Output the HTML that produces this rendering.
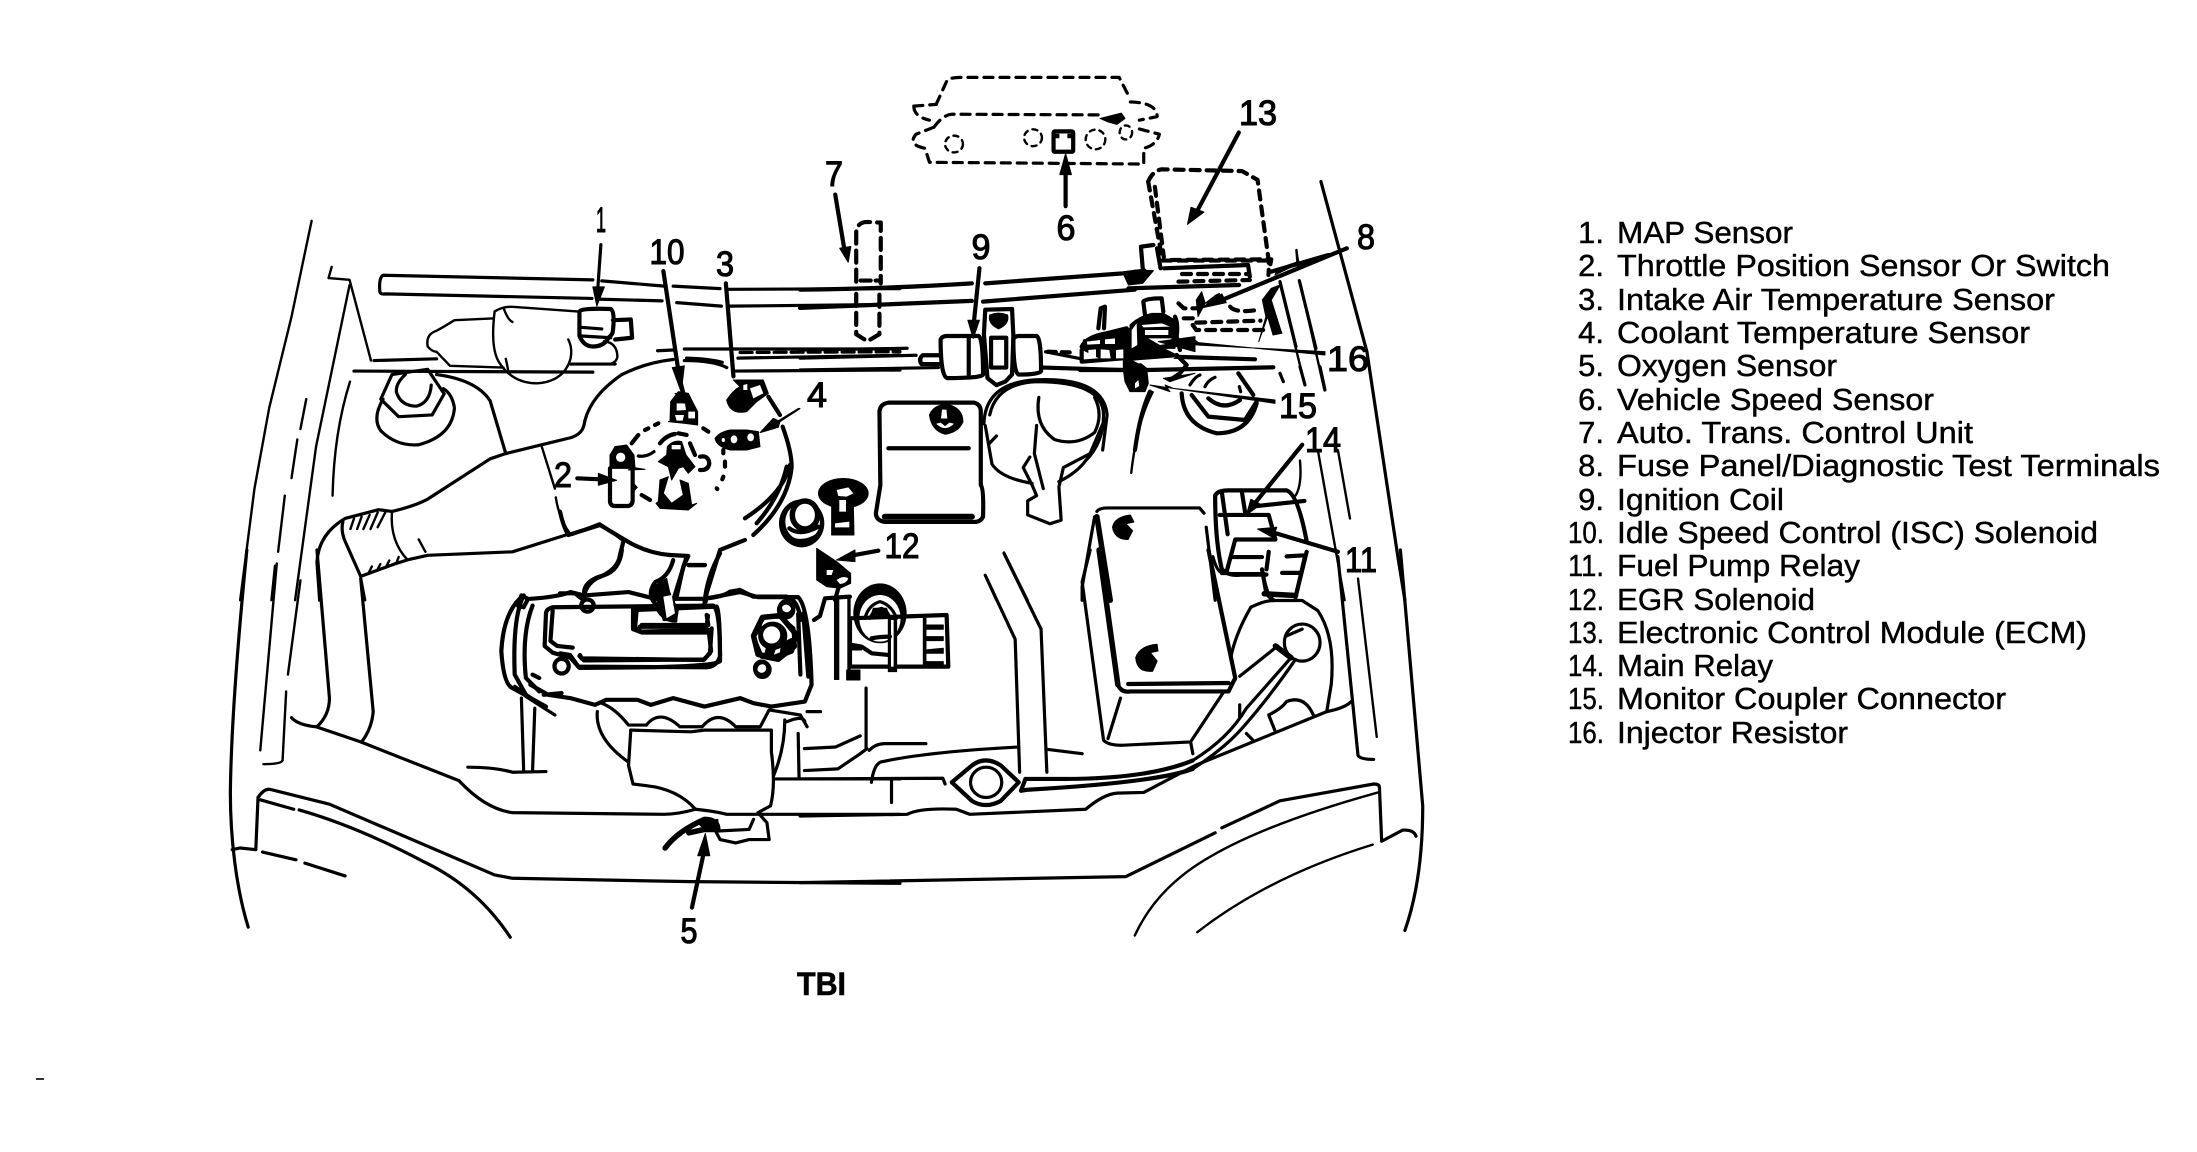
<!DOCTYPE html>
<html><head><meta charset="utf-8"><style>
html,body{margin:0;padding:0;background:#fff;width:2197px;height:1152px;overflow:hidden}
svg{display:block}
path,line,ellipse,rect,polyline{vector-effect:non-scaling-stroke}
.d{fill:none;stroke:#000;stroke-linecap:round;stroke-linejoin:round}
.t{stroke-width:2.4}.m{stroke-width:3.2}.k{stroke-width:4.2}.x{stroke-width:5.5}
.f{fill:#000;stroke:#000;stroke-width:1;stroke-linejoin:round}
.w{fill:#fff;stroke:none}
.ds{stroke-dasharray:9 7}
.dt{stroke-dasharray:5 9}
text{font-family:"Liberation Sans",sans-serif;fill:#000}
.n{font-size:35px;text-anchor:middle;stroke:#000;stroke-width:1.1}
.l{font-size:31px;stroke:#000;stroke-width:.45}
.r{font-size:31px;text-anchor:end;stroke:#000;stroke-width:.45}
</style></head><body>
<svg width="2197" height="1152" viewBox="0 0 2197 1152" xmlns="http://www.w3.org/2000/svg">
<rect width="2197" height="1152" fill="#fff"/>

<!-- crop 1 : upper left -->
<g transform="translate(200,50) scale(.4464,.3509)">
<g class="d t">
<path d="M250,487 L205,760 L155,1020 L122,1250 L90,1568"/>
<path d="M238,995 L225,1080 M218,1110 L205,1220 M190,1270 L175,1430 M168,1470 L160,1568"/>
<path d="M295,618 L288,650 L335,655 L383,885"/>
<path d="M335,670 L260,1130 L213,1568"/>
<path d="M336,945 Q300,1090 297,1270"/>
</g>
<g class="d m">
<path d="M880,655 L410,642 Q400,650 403,690 Q405,697 415,695 L878,708"/>
<path d="M900,658 L1040,673 M1060,673 L1165,680 M1185,682 L1568,680"/>
<path d="M890,710 L1035,715 M1068,720 L1168,730 M1185,730 L1568,725"/>
<path d="M390,885 L530,880 M345,915 L880,918 M830,895 L930,895 M1025,857 L1060,855"/>
<path d="M1085,852 L1568,852 M1090,878 Q1140,880 1170,890 M1205,878 L1568,870 M1200,915 L1568,912"/>
<path d="M1210,862 L1568,860" stroke-dasharray="12 5"/>
</g>
<g class="d t">
<path d="M660,745 Q680,730 700,732 L845,745"/>
<path d="M660,745 Q650,850 670,890 Q700,950 755,950 Q815,945 830,880 Q835,850 825,825"/>
<path d="M655,765 L570,770 Q545,790 530,800 Q505,810 510,845 Q520,860 530,860 L560,900 L680,905"/>
<path d="M680,735 Q690,770 700,775 M685,880 L690,910"/>
</g>
<path class="d k" d="M850,745 Q855,735 920,738 Q930,745 925,800 Q925,810 915,820 Q905,845 880,845 Q860,845 850,815 Z"/>
<path class="d m" d="M850,790 L900,795 M855,815 L920,820"/>
<path class="d k" d="M925,770 L965,768 L968,820 L930,825"/>
<path class="d t" d="M905,830 Q935,835 935,875 Q930,900 900,895"/>
<path class="d m" d="M898,555 L890,700"/>
<path class="f" d="M880,675 L906,675 L889,730 Z"/>
<!-- air cleaner -->
<g class="d m">
<path d="M945,925 Q870,990 860,1070 Q855,1095 830,1105 L765,1125 L685,1150 L650,1165 L510,1280 Q480,1300 430,1315 L400,1310 L325,1335 Q265,1380 262,1460 L268,1568"/>
<path d="M945,925 Q1000,890 1060,882"/>
<path d="M1085,885 Q1150,885 1180,905"/>
<path d="M825,1380 L700,1430 L510,1440 L465,1453 L435,1465 L360,1500 L325,1400 Q315,1370 320,1345"/>
<path d="M835,1380 L895,1350 Q920,1370 950,1400"/>
</g>
<g class="d t">
<path d="M765,1128 L795,1250 M797,1275 Q805,1340 830,1380"/>
<path d="M430,1315 Q425,1400 465,1453"/>
<path d="M345,1335 L337,1365 M362,1330 L352,1365 M380,1325 L366,1365 M398,1318 L382,1365 M415,1318 L398,1360"/>
<path d="M378,1490 L385,1472 M398,1480 L404,1465 M418,1470 L424,1455 M440,1462 L445,1445"/>
<path d="M360,1500 L370,1568 M490,1395 L505,1430"/>
</g>
<!-- strut nut -->
<g class="d m">
<path d="M430,925 L405,995 L445,1045 L520,1040 L547,980 L510,910 Z"/>
<path d="M460,925 Q438,950 440,975 Q450,1015 485,1015 Q515,1005 518,955"/>
<path d="M410,995 Q385,1050 405,1085 Q440,1130 490,1125 Q565,1100 570,1020 Q565,980 545,965"/>
<path d="M530,925 Q620,940 650,1000 L685,1150"/>
</g>
<!-- label 7 unit -->
<g class="d k" stroke-dasharray="12 7">
<path d="M1470,660 L1470,520 Q1472,490 1495,490 L1525,492 L1525,665"/>
<path d="M1470,695 L1470,810 L1495,830 L1522,810 L1522,695"/>
<path d="M1480,657 L1525,657" stroke-dasharray="10 5"/>
</g>
<!-- arrows -->
<g class="d k">
<path d="M1423,412 L1445,580 M1038,630 L1070,900 M1178,665 L1195,930"/>
</g>
<path class="f" d="M1433,565 L1458,560 L1452,605 Z M1058,905 L1085,900 L1078,975 Z"/>
</g>

<!-- crop 2 : upper right -->
<g transform="translate(800,50) scale(.4464,.3509)">
<g class="d k">
<path d="M0,683 Q200,680 385,665 M415,665 L720,637 M0,735 L385,715 M410,717 L750,683"/>
</g>
<path class="d m" d="M1167,375 L1270,860 L1340,1450 L1355,1568"/>
<g class="d t">
<path d="M1112,570 L1115,615 M1075,665 L1130,950 M1120,660 L1175,970 M1160,1140 L1220,1568 M1205,1140 L1232,1335 M1120,1170 Q1125,1240 1110,1270"/>
</g>
<!-- firewall dashed -->
<g class="d m ds">
<path d="M305,155 L330,85 Q340,78 360,78 L715,78 L740,140"/>
<path d="M740,148 Q800,150 800,190 L760,200 M255,160 L305,155 M255,160 Q255,190 290,200"/>
<path d="M300,220 L260,240 Q240,270 280,280 L290,320 L770,325 L770,280 Q800,270 805,240 L760,225"/>
<path d="M300,220 Q320,185 340,183 L680,185"/>
</g>
<g class="d t" stroke-dasharray="5 5">
<ellipse cx="345" cy="268" rx="20" ry="24"/><ellipse cx="522" cy="250" rx="20" ry="24"/><ellipse cx="662" cy="255" rx="22" ry="28"/><ellipse cx="730" cy="235" rx="14" ry="20"/>
</g>
<path class="f" d="M672,195 L720,180 L728,195 L710,212 L690,205 Z"/>
<rect class="d k" x="568" y="232" width="44" height="58" rx="3"/>
<path class="f" d="M572,240 L580,240 L580,250 L572,250 Z M600,240 L608,240 L608,250 L600,250Z"/>
<path class="d k" d="M595,445 L595,345"/>
<path class="f" d="M582,355 L608,355 L595,295 Z"/>
<!-- ECM -->
<g class="d k ds">
<path d="M780,375 Q790,345 810,340 L990,345 L1025,370 L1050,600 L1050,635"/>
<path d="M780,375 L812,600 L1050,600"/>
<path d="M795,390 L815,590"/>
</g>
<path class="d k" d="M983,235 L885,470"/>
<path class="f" d="M868,497 L876,448 L905,462 Z"/>
<path class="d k" d="M1225,565 L940,715"/>
<path class="f" d="M900,735 L945,695 L955,720 Z"/>
<!-- ignition coil -->
<g class="d k">
<path d="M330,815 L400,815 Q410,820 410,925 Q405,935 330,935 Q315,930 315,825 Q318,815 330,815 Z"/>
<path d="M490,815 L530,815 Q540,820 540,915 Q535,925 490,925 Q478,920 478,825 Q480,815 490,815 Z"/>
<path d="M415,740 L475,738 L478,815 L475,925 L460,945 L440,955 L420,935 L412,810 Z"/>
<path d="M428,820 L428,905 L462,905 L462,820 Z"/>
<path d="M315,870 L275,870 Q265,880 272,895 L315,895"/>
<path d="M378,820 L378,925"/>
<path d="M545,905 L720,912"/>
</g>
<path class="f" d="M425,755 Q445,745 465,755 Q470,780 445,795 Q420,780 425,755 Z"/>
<path class="d m" d="M0,855 L240,850 M0,878 L260,870 M0,912 L310,905 M550,860 L630,880"/>
<path class="d k" d="M555,860 L610,862" stroke-dasharray="8 6"/>
<path class="d k" d="M402,622 L390,770"/>
<path class="f" d="M376,770 L402,770 L388,822 Z"/>
<!-- washer tank -->
<g class="d k">
<path d="M198,1005 L390,1005 Q405,1010 405,1030 L405,1240 Q412,1250 410,1330 Q405,1345 390,1345 L190,1345 Q170,1340 170,1320 Q175,1280 180,1240 L178,1030 Q180,1008 198,1005 Z"/>
<path d="M198,1135 L378,1135"/>
<path d="M190,1330 L385,1330" stroke-width="6"/>
</g>
<path class="f" d="M290,1040 Q300,1010 330,1010 Q365,1020 365,1060 Q355,1090 325,1095 Q295,1085 290,1040 Z"/>
<path class="w" d="M318,1025 L328,1025 L330,1050 L316,1050 Z M305,1065 Q325,1090 345,1065 L335,1062 L325,1072 L315,1062Z"/>
<!-- bottle -->
<g class="d m">
<path d="M425,1040 Q440,950 530,945 Q680,945 680,1040 Q680,1120 640,1170 Q620,1205 580,1230"/>
<path d="M412,1065 Q415,950 525,940 Q680,930 688,1040 L678,1140"/>
<path d="M415,1070 L430,1180 Q450,1220 520,1235"/>
<path d="M535,990 Q525,1070 570,1110 Q620,1130 660,1090 Q680,1040 660,990"/>
<path d="M530,1070 L525,1150 L545,1250 M680,1060 L650,1150 L590,1190 L580,1245 L585,1340 L560,1350 L510,1325 L510,1285 L530,1270 L520,1240 L500,1190 L515,1160"/>
<path d="M440,1100 L425,1120"/>
</g>
<path class="d t" d="M790,975 Q755,1060 742,1205 M457,1432 L510,1568 M415,1498 L440,1568"/>
<!-- battery top -->
<g class="d m">
<path d="M660,1330 L632,1530 L632,1568 M665,1315 Q670,1305 690,1305 L895,1305 L905,1320 M910,1360 L930,1568"/>
</g>
<path class="d x" d="M665,1330 L695,1568"/>
<path class="f" d="M700,1360 Q705,1330 740,1325 L748,1345 L730,1350 L745,1370 L735,1395 Q705,1395 700,1360 Z"/>
<!-- relays -->
<g class="d k">
<path d="M930,1270 Q935,1255 960,1255 L1090,1255 Q1115,1265 1135,1400"/>
<path d="M930,1270 Q930,1400 945,1480 Q960,1500 990,1495 L1045,1495"/>
<path d="M940,1325 L1050,1325 L1065,1395 L975,1395 L955,1490"/>
<path d="M945,1260 L958,1380 M990,1260 L998,1325 M1020,1300 L1130,1285"/>
<path d="M965,1445 L1035,1445 M1090,1443 L1130,1440 M1135,1430 L1110,1560 M1080,1490 L1120,1490 M1050,1430 L1045,1480 M1035,1480 L1045,1550 L1060,1568"/>
</g>
<path class="d k" d="M1125,1125 L1020,1290 M1205,1430 L1060,1375"/>
<path class="f" d="M1000,1325 L1010,1280 L1032,1295 Z M1025,1365 L1068,1360 L1060,1390 Z"/>
</g>

<!-- zoom 6 firewall detail -->
<g transform="translate(800,200) scale(.357,.3333)">
<g class="d k">
<path d="M905,220 L965,212 M1020,205 L1255,195 L1260,230 M1320,215 L1480,165"/>
<path d="M920,265 L1230,255"/>
<path d="M960,205 L955,140 L990,135 M1000,145 L1010,205"/>
</g>
<path class="f" d="M905,220 L940,210 L990,212 L960,250 L920,255 Z"/>
<g class="d k ds">
<path d="M1040,180 L1320,178 L1312,225 M1070,222 L1255,222 M1060,245 L1260,240"/>
<path d="M1060,310 L1075,325 L1110,325 M1075,355 L1110,355"/>
<path d="M1100,375 L1110,390 L1310,390 M1110,368 L1290,362"/>
<path d="M1205,320 Q1220,340 1280,330"/>
</g>
<path class="f" d="M1340,205 L1395,185 L1392,150 L1398,190 L1330,225 Z"/>
<path class="f" d="M1320,265 L1345,255 L1320,300 L1345,385 L1350,400 L1325,405 L1310,350 L1285,425 L1305,350 L1295,300 Z"/>
<path class="f" d="M1110,300 L1125,275 L1135,310 L1115,350 Z M1135,310 L1165,285 L1175,280 L1180,300 Z"/>
</g>

<!-- zoom 8 cluster -->
<g transform="translate(1080,270) scale(.3333,.3333)">
<g class="d k">
<path d="M195,135 L190,95 Q195,85 245,85 L250,125"/>
<path d="M55,175 L62,115 L75,110 L72,175"/>
<path d="M5,230 Q20,200 80,190 L140,175"/>
<path d="M5,240 L5,275 L130,265 M0,300 L130,300"/>
<path d="M285,140 Q295,160 290,200 L300,240"/>
<path d="M270,260 L525,268 M200,300 L580,292"/>
<path d="M290,255 L320,285 L300,310 L270,330"/>
</g>
<path class="f" d="M150,165 Q175,140 215,130 L250,130 L285,150 L290,200 L285,235 L250,235 L290,255 L290,260 L175,275 L200,295 L205,340 L195,365 L150,365 L135,335 L130,300 L130,265 L150,230 Z"/>
<path class="w" d="M195,180 L265,180 L265,195 L195,195 Z M185,165 L245,160 L270,170 L190,172 Z M205,205 L275,205 L270,220 L240,225 Z M155,180 L170,160 L172,225 L155,235 Z"/>
<path class="w" d="M160,272 L285,262 L270,275 L175,280 Z M165,340 L175,330 L178,348 L165,355 Z"/>
<path class="f" d="M10,210 L90,190 L150,175 L150,265 L60,265 L10,240 Z"/>
<path class="w" d="M25,240 L48,238 L48,262 L25,262 Z M62,238 L88,240 L92,265 L62,265 Z M108,240 L130,238 L130,265 L108,265Z M20,215 L60,210 L60,222 L22,224 Z M75,208 L105,205 L105,222 L75,222Z"/>
<path class="f" d="M735,245 L350,225 L320,215 L345,210 L355,218 L735,255 Z"/>
<path class="f" d="M235,215 L345,200 L345,245 Z"/>
<path class="f" d="M585,390 L280,355 L255,345 L270,365 L210,345 L585,400 Z"/>
<path class="f" d="M250,325 L345,310 L270,335 Z"/>
<!-- nut -->
<g class="d k">
<path d="M305,370 Q310,465 410,490 Q505,490 530,400"/>
<path d="M335,375 L385,440 L495,450 L530,395"/>
<path d="M385,385 Q430,425 480,390 M475,310 L520,375"/>
</g>
<path class="d m" d="M330,345 Q345,320 360,315 M375,350 Q385,330 405,322 M478,350 L482,365 M600,310 L610,335 M660,290 L675,345 M720,290 L735,360"/>
<path class="d m" d="M600,35 L648,230 M658,32 L708,235"/>
<path class="d k" d="M210,365 Q180,430 165,540"/>
</g>

<!-- crop 3 : lower left -->
<g transform="translate(200,550) scale(.4464,.3367)">
<path class="d m" d="M105,0 C90,200 70,500 68,720 C68,850 80,1000 108,1120"/>
<g class="d t">
<path d="M172,40 L135,595 M225,90 L197,370 M193,420 L185,625 Q182,636 142,636"/>
</g>
<g class="d m">
<path d="M262,0 L290,440 Q290,490 262,525"/>
<path d="M360,85 L388,480 Q385,530 362,570"/>
<path d="M205,498 Q220,520 260,525 L360,570 L580,685 Q640,770 700,780 L1040,785 Q1070,785 1110,770 Q1150,775 1180,785 L1568,785"/>
<path d="M130,735 Q145,705 160,712 L290,755 L660,965 L700,975 L1100,985 L1568,990"/>
<path d="M130,735 L125,890 L90,885 L72,890"/>
<path d="M135,742 L210,770 M222,772 Q350,820 500,925 Q620,1000 695,1150"/>
<path d="M140,897 L215,920 M235,930 L325,968"/>
</g>
<!-- valve cover -->
<g class="d k">
<path d="M740,145 Q800,140 830,125 L860,135 L960,125 L1020,145 L1130,145 L1210,125 L1250,140 L1340,140 Q1365,170 1370,400 L1355,450 L1280,465 L1240,455 L1210,440 L1130,465 L1060,440 L1010,460 L980,445 L910,445 L885,460 L830,440 L780,430 L740,400"/>
<path d="M790,170 L1150,165 Q1165,180 1165,330 Q1150,350 850,350 L830,320 L790,305 L772,285 L775,190 Q775,175 790,170 Z"/>
<path d="M970,170 L970,235 L990,245 L1140,245 L1145,300 L1130,325 L860,328 L850,315"/>
<path d="M985,228 L1135,228 L1138,195 M790,180 L785,270 L800,285 L835,290"/>
<path d="M725,135 Q680,180 675,300 Q680,400 700,410 L775,465"/>
<path d="M725,135 Q700,200 705,370 L730,430 M745,165 Q720,250 730,380 L760,420"/>
<path d="M720,135 L735,145 L725,170 L712,165 Z M745,370 L760,380 M770,430 L810,425"/>
</g>
<ellipse class="d k" cx="868" cy="165" rx="14" ry="18"/>
<ellipse class="d k" cx="810" cy="345" rx="16" ry="22"/>
<ellipse class="d k" cx="1313" cy="178" rx="16" ry="22"/>
<ellipse class="d k" cx="1260" cy="355" rx="16" ry="22"/>
<path class="d x" d="M1240,255 L1260,200 L1300,195 L1335,250 L1325,300 L1285,320 L1250,310 Z"/>
<ellipse class="d k" cx="1283" cy="255" rx="28" ry="36"/>
<path class="d k" d="M1340,190 L1345,370"/>
<!-- engine neck -->
<g class="d k">
<path d="M945,0 Q940,60 905,75 Q860,90 860,130"/>
<path d="M1060,30 Q1050,80 1020,95 Q1000,130 1020,160 Q1035,210 1065,210 Q1060,175 1050,130"/>
<path d="M1090,20 L1060,150 M1165,10 Q1135,80 1130,160 M1095,45 L1130,45"/>
</g>
<!-- lower -->
<g class="d m">
<path d="M890,480 Q885,560 960,630"/>
<path d="M900,455 Q930,470 960,520 L1000,520 Q1030,470 1075,525 L1125,525 Q1160,470 1200,525 L1255,525 L1275,475 L1345,490 L1360,525"/>
<path d="M965,535 L1100,540 L1130,535 L1280,535 L1280,600 Q1290,700 1278,760 L1250,780 L1270,810 L1275,860 L1230,860 L1200,870 L1165,860 L1155,835 L1230,830 L1240,800"/>
<path d="M965,535 L960,640 L970,695 L1000,700 Q1070,710 1110,770"/>
<path d="M1310,505 Q1310,590 1285,670 M1340,545 L1342,680 M1290,680 L1568,680 M1360,480 L1390,480 M1315,510 Q1350,490 1355,510"/>
<path d="M720,440 L725,655 M750,470 L745,655 M600,645 Q660,645 700,660 L775,658 M705,405 L770,465 M730,435 L795,490"/>
</g>
<path class="d x" d="M1042,885 Q1070,835 1130,800 Q1160,800 1160,830 L1130,830 L1095,840"/>
<path class="f" d="M1115,810 L1160,800 L1162,835 L1130,830 Z"/>
<path class="d k" d="M1102,1062 L1130,890"/>
<path class="f" d="M1115,908 L1142,908 L1132,842 Z"/>
</g>

<!-- crop 4 : lower right -->
<g transform="translate(800,550) scale(.4464,.3367)">
<g class="d m">
<path d="M0,790 L240,785 Q270,765 350,770 L380,785 L640,770 Q680,725 710,722 L770,720 L885,640 L1180,480 Q1220,470 1235,450"/>
<path d="M0,988 L730,970 L930,840 M945,825 L1075,745 L1285,695 Q1298,695 1298,705 L1303,865 L1350,832 Q1375,830 1380,850"/>
<path d="M1345,0 L1395,760 Q1395,980 1355,1130"/>
<path d="M1205,20 L1250,610 Q1255,622 1285,622"/>
</g>
<g class="d t">
<path d="M1250,85 L1292,555"/>
<path d="M750,1145 Q800,1000 920,910 Q1050,810 1295,720 M890,1135 Q1050,970 1283,875"/>
</g>
<g class="d m">
<path d="M457,10 L540,235 L553,660 M415,75 L482,265 L492,660 M553,592 L632,605"/>
<path d="M155,595 Q170,575 190,575 L282,575 M160,690 Q165,640 180,630 Q280,600 490,585 M0,680 L320,678 L325,695 M205,680 L205,750"/>
<path d="M10,590 L80,585 L135,552 M10,655 L85,650 L135,605 L150,590 M148,410 L148,590"/>
</g>
<!-- radiator cap -->
<path class="d k" d="M340,690 L385,640 Q415,610 450,640 L490,690 L450,745 Q415,770 385,745 Z"/>
<ellipse class="d m" cx="417" cy="690" rx="35" ry="45"/>
<path class="d k" d="M505,680 L495,715 L510,712 M505,680 L590,680 Q780,680 880,625 M510,712 Q800,690 880,650"/>
<!-- battery -->
<g class="d m">
<path d="M650,0 L632,95 L680,565 Q690,580 720,580 L875,570 L950,420 M875,570 L880,605"/>
<path d="M718,440 L690,560"/>
</g>
<path class="d x" d="M670,0 L712,400"/>
<path class="d k" d="M712,400 Q720,425 740,420 L960,420 L975,380 L915,0 M735,398 L960,395"/>
<path class="f" d="M752,320 Q760,285 800,280 L802,300 L785,305 L800,330 L790,360 Q755,365 752,320 Z"/>
<!-- tray + cable -->
<g class="d m">
<path d="M1010,170 Q1040,150 1060,150 L1125,150 L1160,180 Q1200,260 1190,400 L1180,480"/>
<path d="M1010,170 Q975,250 965,320 L975,385"/>
<ellipse cx="1125" cy="275" rx="40" ry="55"/>
<path d="M1070,285 L985,375 M1090,255 L1125,235 M1100,320 L1000,470 Q960,560 880,625 M1110,325 Q1050,440 990,530 Q950,590 880,650"/>
<path d="M1065,540 L1050,490 Q1080,470 1090,450 Q1130,430 1150,490 M1000,545 L1015,565 M985,460 L985,495"/>
</g>
<path class="d x" d="M1040,130 L1110,135 M1065,285 L1100,320"/>
<g class="d m"><path d="M1040,90 L1050,135 M1130,20 L1110,135 M945,70 L1040,70 M925,20 Q935,70 950,70"/></g>
</g>

<!-- zoom 7 : centre -->
<g transform="translate(560,380) scale(.3333,.3333)">
<!-- arcs -->
<g class="d k">
<path d="M625,50 L660,105"/>
<path d="M668,140 Q695,215 695,260 Q685,370 580,465 M555,480 Q530,490 480,510 L440,640 L437,665"/>
<path d="M690,255 Q670,340 555,415 M680,260 Q660,350 590,430"/>
</g>
<!-- solenoid 10 -->
<path class="f" d="M330,125 L332,65 L355,35 L385,40 L400,70 L413,95 L413,135 L375,130 L325,125 Z"/>
<path class="w" d="M350,70 L375,70 L378,90 L350,92 Z M385,95 L405,95 L405,115 L385,115 Z M345,105 L372,105 L368,122 L350,122Z"/>
<path class="d k" d="M360,0 L370,40"/>
<path class="f" d="M345,40 L385,42 L372,70 Z"/>
<!-- sensor 3 -->
<path class="f" d="M500,60 Q520,30 540,20 L520,0 L610,0 L625,40 L590,65 L560,95 Q510,105 500,60 Z"/>
<path class="w" d="M570,25 L600,15 L610,40 L580,55 Z M550,15 L562,12 L562,30 L550,30Z"/>
<!-- sensor 4 -->
<path class="f" d="M465,175 Q480,155 510,150 L560,150 L595,155 L600,200 L560,210 L510,210 Q470,200 465,175 Z"/>
<ellipse class="w" cx="522" cy="178" rx="10" ry="12"/><ellipse class="w" cx="572" cy="172" rx="10" ry="12"/><ellipse class="w" cx="490" cy="180" rx="5" ry="6"/>
<path class="f" d="M720,86 L660,125 L655,142 L600,158 L640,115 L655,122 L716,85 Z"/>
<!-- dashed circle -->
<path class="d k" d="M215,190 L235,165 M255,150 L265,145 M285,135 L295,130 M430,145 L445,155 M490,210 L490,220 M495,245 L495,260 M490,290 L487,298 M470,325 L472,327 M245,345 L270,360" />
<path class="d m" d="M235,228 Q260,232 282,215"/>
<!-- inner -->
<path class="d k" d="M300,190 Q320,165 345,162 M355,160 L380,165 M390,190 L405,225"/>
<path class="d k" d="M420,230 Q445,225 448,250 Q445,272 420,270"/>
<path class="f" d="M322,200 Q340,178 365,185 L378,225 L405,260 L385,280 L370,260 L355,265 L335,300 L325,260 L295,245 L320,225 Z"/>
<path class="w" d="M335,195 L362,195 L362,208 L335,208 Z"/>
<path class="f" d="M300,300 L325,290 L310,340 L335,370 L370,345 L360,300 L385,310 L395,375 L410,370 L385,390 L300,385 L288,370 L295,365 Z"/>
<!-- TPS -->
<path class="f" d="M150,225 L165,200 L200,195 L222,225 L225,265 L195,265 L150,265 Z"/>
<ellipse class="w" cx="182" cy="232" rx="14" ry="14"/>
<path class="d k" d="M150,265 L150,365 Q152,378 165,378 L205,378 Q218,375 218,360 L218,265"/>
<path class="f" d="M215,305 L232,322 L215,340 Z M205,270 L255,268 L218,262 Z"/>
<path class="d k" d="M52,295 L120,298"/>
<path class="f" d="M115,280 L170,301 L115,316 Z"/>
<!-- neck -->
<g class="d k">
<path d="M0,395 Q10,440 25,465 L120,435 L195,480 Q260,520 330,525 L385,528 L370,560 L350,650"/>
<path d="M385,555 L435,555"/>
<path d="M440,655 Q490,650 510,635 L540,630 L580,650 L680,650 Q715,660 722,720"/>
<path d="M0,640 L45,640 L70,660"/>
<path d="M70,660 Q75,615 110,595 Q175,570 180,525 L190,485"/>
<path d="M730,700 L745,890"/>
<path d="M762,720 L780,708 L795,655 L870,650"/>
</g>
<!-- bolts -->
<ellipse cx="725" cy="430" rx="68" ry="72" fill="#000" stroke="none"/>
<ellipse cx="728" cy="425" rx="52" ry="56" fill="#fff" stroke="none"/>
<path class="d k" d="M688,445 Q720,470 775,440 M690,475 Q730,495 775,465"/>
<ellipse class="d x" cx="735" cy="405" rx="38" ry="42"/>
<ellipse cx="850" cy="340" rx="76" ry="46" fill="#000"/>
<path class="f" d="M815,370 L880,370 L882,465 L815,465 Z"/>
<path class="w" d="M830,330 L865,322 L880,340 L860,350 L835,348 Z M838,360 L858,360 L858,395 L838,395 Z M825,430 L868,425 L868,442 L825,442 Z"/>
<ellipse class="w" cx="800" cy="385" rx="7" ry="10"/>
<!-- EGR solenoid -->
<path class="f" d="M770,505 L830,545 L872,580 L872,610 L840,625 L800,620 L770,600 Z"/>
<path class="w" d="M830,600 Q850,585 865,595 Q860,610 840,612 Z M800,570 L820,570 L815,585 L800,585 Z"/>
<path class="d k" d="M955,512 L885,525"/>
<path class="f" d="M885,510 L830,540 L885,545 Z"/>
<path class="d k" d="M835,625 L825,660"/>
<!-- nut & studs -->
<ellipse class="d k" cx="680" cy="683" rx="20" ry="20"/>
<ellipse class="d k" cx="605" cy="865" rx="20" ry="20"/>
<path class="d k" d="M600,745 Q595,730 615,710 L660,710 L700,745 L705,800 L655,840 L605,830 L580,770 Z"/>
<ellipse class="d k" cx="635" cy="765" rx="32" ry="32"/>
<path class="f" d="M620,800 L650,795 L640,825 L615,820 Z M665,790 L695,775 L690,805 L660,825Z"/>
<!-- distributor -->
<ellipse cx="960" cy="700" rx="80" ry="90" fill="#000"/>
<ellipse cx="960" cy="715" rx="62" ry="70" fill="#fff"/>
<path class="d m" d="M915,715 Q925,675 960,665 Q995,675 1010,715 M930,715 Q940,690 965,685 Q985,695 990,715"/>
<path class="f" d="M940,685 L980,685 L990,715 L930,715 Z"/>
<path class="d k" d="M870,715 L1160,705 L1165,860 L1040,860 L870,860 Z"/>
<rect x="822" y="650" width="16" height="250" fill="#000"/>
<rect x="862" y="650" width="10" height="250" fill="#000"/>
<path class="f" d="M985,712 L1010,712 L1010,875 L985,875 Z"/>
<rect class="w" x="993" y="720" width="8" height="140"/>
<path class="d k" d="M935,775 Q960,770 990,770 M875,795 L905,800 L935,820 L985,825"/>
<path class="f" d="M1095,735 L1150,735 L1150,748 L1095,748 Z M1095,770 L1150,770 L1150,782 L1095,782 Z M1095,810 L1150,805 L1150,820 L1095,820 Z M1095,845 L1150,845 L1150,858 L1095,858 Z M870,790 L905,795 L905,810 L870,810 Z M860,870 L900,870 L900,900 L860,900 Z"/>
<path class="f" d="M1090,715 L1098,715 L1098,860 L1090,860 Z"/>
<path class="d k" d="M230,690 L225,745 L245,755 L455,750 M245,735 L445,735 L440,705 M60,825 L65,835 L430,840 L450,820 L455,745 M225,690 L470,680 Q480,690 480,830 Q470,860 440,862 L55,860 L30,825 L0,820"/>
<path class="f" d="M290,660 Q270,640 280,620 L320,595 L330,640 L355,690 L350,722 L310,722 Z"/>
<path class="w" d="M310,650 L335,645 L345,700 L320,715 Z"/>
</g>

<!-- Label numbers -->
<text class="n" x="601" y="232" textLength="10" lengthAdjust="spacingAndGlyphs">1</text>
<text class="n" x="667" y="264" textLength="35" lengthAdjust="spacingAndGlyphs">10</text>
<text class="n" x="725" y="276" textLength="18" lengthAdjust="spacingAndGlyphs">3</text>
<text class="n" x="834" y="186" textLength="18" lengthAdjust="spacingAndGlyphs">7</text>
<text class="n" x="817" y="407" textLength="20" lengthAdjust="spacingAndGlyphs">4</text>
<text class="n" x="563" y="487" textLength="18" lengthAdjust="spacingAndGlyphs">2</text>
<text class="n" x="902" y="558" textLength="35" lengthAdjust="spacingAndGlyphs">12</text>
<text class="n" x="981" y="259" textLength="19" lengthAdjust="spacingAndGlyphs">9</text>
<text class="n" x="1066" y="240" textLength="19" lengthAdjust="spacingAndGlyphs">6</text>
<text class="n" x="1258" y="125" textLength="38" lengthAdjust="spacingAndGlyphs">13</text>
<text class="n" x="1366" y="249" textLength="18" lengthAdjust="spacingAndGlyphs">8</text>
<text class="n" x="1348" y="371" textLength="42" lengthAdjust="spacingAndGlyphs">16</text>
<text class="n" x="1298" y="418" textLength="38" lengthAdjust="spacingAndGlyphs">15</text>
<text class="n" x="1323" y="452" textLength="36" lengthAdjust="spacingAndGlyphs">14</text>
<text class="n" x="1361" y="572" textLength="32" lengthAdjust="spacingAndGlyphs">11</text>
<text class="n" x="689" y="943" textLength="17" lengthAdjust="spacingAndGlyphs">5</text>
<text x="797" y="995" font-size="32" font-weight="bold" textLength="49" lengthAdjust="spacingAndGlyphs" stroke="#000" stroke-width=".6">TBI</text>
<rect x="36" y="1078" width="8" height="2" fill="#333"/>

<!-- Legend -->
<g>
<text class="r" x="1604" y="243">1.</text><text class="l" x="1617" y="243" textLength="176" lengthAdjust="spacingAndGlyphs">MAP Sensor</text>
<text class="r" x="1604" y="276">2.</text><text class="l" x="1617" y="276" textLength="493" lengthAdjust="spacingAndGlyphs">Throttle Position Sensor Or Switch</text>
<text class="r" x="1604" y="310">3.</text><text class="l" x="1617" y="310" textLength="438" lengthAdjust="spacingAndGlyphs">Intake Air Temperature Sensor</text>
<text class="r" x="1604" y="343">4.</text><text class="l" x="1617" y="343" textLength="413" lengthAdjust="spacingAndGlyphs">Coolant Temperature Sensor</text>
<text class="r" x="1604" y="376">5.</text><text class="l" x="1617" y="376" textLength="220" lengthAdjust="spacingAndGlyphs">Oxygen Sensor</text>
<text class="r" x="1604" y="410">6.</text><text class="l" x="1617" y="410" textLength="317" lengthAdjust="spacingAndGlyphs">Vehicle Speed Sensor</text>
<text class="r" x="1604" y="443">7.</text><text class="l" x="1617" y="443" textLength="356" lengthAdjust="spacingAndGlyphs">Auto. Trans. Control Unit</text>
<text class="r" x="1604" y="476">8.</text><text class="l" x="1617" y="476" textLength="543" lengthAdjust="spacingAndGlyphs">Fuse Panel/Diagnostic Test Terminals</text>
<text class="r" x="1604" y="510">9.</text><text class="l" x="1617" y="510" textLength="167" lengthAdjust="spacingAndGlyphs">Ignition Coil</text>
<text class="r" x="1604" y="543" textLength="36" lengthAdjust="spacingAndGlyphs">10.</text><text class="l" x="1617" y="543" textLength="481" lengthAdjust="spacingAndGlyphs">Idle Speed Control (ISC) Solenoid</text>
<text class="r" x="1604" y="576" textLength="36" lengthAdjust="spacingAndGlyphs">11.</text><text class="l" x="1617" y="576" textLength="243" lengthAdjust="spacingAndGlyphs">Fuel Pump Relay</text>
<text class="r" x="1604" y="610" textLength="36" lengthAdjust="spacingAndGlyphs">12.</text><text class="l" x="1617" y="610" textLength="198" lengthAdjust="spacingAndGlyphs">EGR Solenoid</text>
<text class="r" x="1604" y="643" textLength="36" lengthAdjust="spacingAndGlyphs">13.</text><text class="l" x="1617" y="643" textLength="470" lengthAdjust="spacingAndGlyphs">Electronic Control Module (ECM)</text>
<text class="r" x="1604" y="676" textLength="36" lengthAdjust="spacingAndGlyphs">14.</text><text class="l" x="1617" y="676" textLength="156" lengthAdjust="spacingAndGlyphs">Main Relay</text>
<text class="r" x="1604" y="709" textLength="36" lengthAdjust="spacingAndGlyphs">15.</text><text class="l" x="1617" y="709" textLength="389" lengthAdjust="spacingAndGlyphs">Monitor Coupler Connector</text>
<text class="r" x="1604" y="743" textLength="36" lengthAdjust="spacingAndGlyphs">16.</text><text class="l" x="1617" y="743" textLength="231" lengthAdjust="spacingAndGlyphs">Injector Resistor</text>
</g>
</svg>
</body></html>
